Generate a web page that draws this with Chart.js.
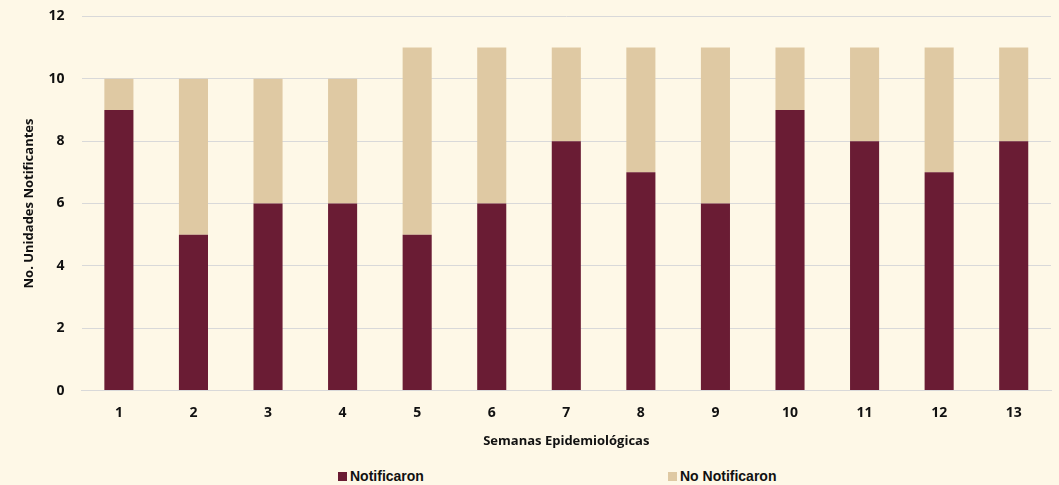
<!DOCTYPE html>
<html>
<head>
<meta charset="utf-8">
<script src="https://cdn.jsdelivr.net/npm/chart.js@4.4.1/dist/chart.umd.min.js"></script>
<style>
  html, body { margin: 0; padding: 0; background: #fef8e7; overflow: hidden; }
  #wrap { position: relative; width: 1059px; height: 485px; overflow: hidden; }
  #box { position: absolute; left: 0; top: -9px; width: 1059px; height: 462px; }
  #legend { position: absolute; top: 468px; left: 0; width: 1059px; height: 20px;
    font-family: "Liberation Sans", Arial, sans-serif; font-weight: bold; font-size: 14px; color: #111; }
  #legend span.item { position: absolute; top: 0; white-space: nowrap; }
  #legend i { display: inline-block; width: 9px; height: 9px; margin-right: 3px; vertical-align: 0px; }
</style>
</head>
<body>
<div id="wrap">
  <div id="box"><canvas id="myChart"></canvas></div>
  <div id="legend"></div>
</div>
<script>
var semanas = ['1','2','3','4','5','6','7','8','9','10','11','12','13'];
var notificaron = [9,5,6,6,5,6,8,7,6,9,8,7,8];
var noNotificaron = [1,5,4,4,6,5,3,4,5,2,3,4,3];
var yTicks = [0,2,4,6,8,10,12];

var chartdata = {
  labels: semanas,
  datasets: [
    { label: 'Notificaron', data: notificaron, backgroundColor: '#6a1c34',
      barPercentage: 0.39, categoryPercentage: 1.0 },
    { label: 'No Notificaron', data: noNotificaron, backgroundColor: '#dfc9a3',
      barPercentage: 0.39, categoryPercentage: 1.0 }
  ]
};

var tickFont = { family: '"Open Sans", "Liberation Sans", sans-serif', weight: 'bold', size: 14 };
var titleFont = { family: '"Open Sans", "Liberation Sans", sans-serif', weight: 'bold', size: 13 };

var options = {
  responsive: true,
  maintainAspectRatio: false,
  animation: false,
  layout: { padding: { left: 21, right: 8, top: 3, bottom: 0 } },
  plugins: { legend: { display: false }, tooltip: { enabled: false } },
  scales: {
    x: {
      stacked: true,
      grid: { display: false, drawTicks: false },
      border: { display: true, color: '#d9d9d9' },
      ticks: { color: '#111', font: tickFont, padding: 14 },
      title: { display: true, text: 'Semanas Epidemiológicas', color: '#111', font: titleFont, padding: { top: -2 } }
    },
    y: {
      stacked: true,
      min: 0, max: 12,
      afterBuildTicks: function(axis) { axis.ticks = yTicks.map(function(v){ return { value: v }; }); },
      grid: { color: '#d9d9d9', drawTicks: false },
      border: { display: false },
      ticks: { color: '#111', font: tickFont, padding: 17 },
      title: { display: true, text: 'No. Unidades Notificantes', color: '#111', font: titleFont, padding: { top: 0, bottom: -5 } }
    }
  }
};

var graph = new Chart(document.getElementById('myChart'), { type: 'bar', data: chartdata, options: options });

var legendPos = [338, 668];
var legend = document.getElementById('legend');
chartdata.datasets.forEach(function(ds, i) {
  var s = document.createElement('span');
  s.className = 'item';
  s.style.left = legendPos[i] + 'px';
  s.innerHTML = '<i style="background:' + ds.backgroundColor + '"></i>' + ds.label;
  legend.appendChild(s);
});
</script>
</body>
</html>
